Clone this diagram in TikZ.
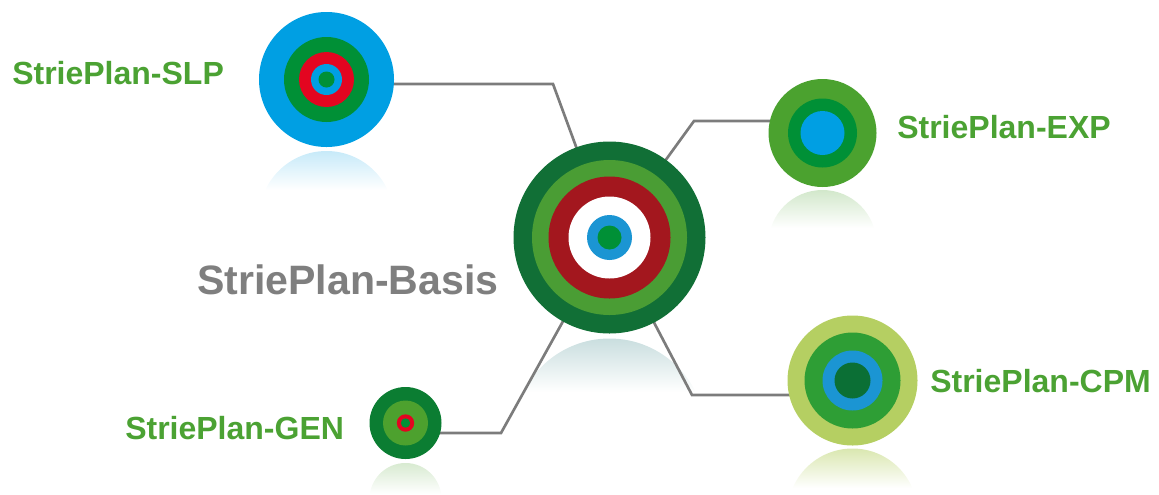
\documentclass[tikz,border=0pt]{standalone}
\usepackage{fontspec}
\setmainfont{Liberation Sans}
\usetikzlibrary{backgrounds}

\definecolor{planblue}{HTML}{009FE3}
\definecolor{plangreen}{HTML}{009036}
\definecolor{planred}{HTML}{E30520}
\definecolor{basisdark}{HTML}{116F36}
\definecolor{basislight}{HTML}{4A9D34}
\definecolor{basisred}{HTML}{A3171E}
\definecolor{basisblue}{HTML}{1B95D3}
\definecolor{basisglow}{HTML}{C9DEDF}
\definecolor{expgreen}{HTML}{4BA22F}
\definecolor{cpmolive}{HTML}{B5CF62}
\definecolor{cpmgreen}{HTML}{2E9E35}
\definecolor{cpmdark}{HTML}{0B6F35}
\definecolor{gendark}{HTML}{0B7D32}
\definecolor{genlight}{HTML}{4DA12E}
\definecolor{labgreen}{HTML}{4BA233}
\definecolor{basisgray}{HTML}{7F7F7F}
\definecolor{linkgray}{HTML}{7C7C7C}

\begin{document}
\begin{tikzpicture}[x=0.75pt, y=-0.75pt,
    disc/.style={circle, inner sep=0pt, outer sep=0pt},
    planname/.style={font=\bfseries\fontsize{24}{29}\selectfont, text=labgreen, inner sep=0pt, anchor=west},
    link/.style={draw=linkgray, line width=2pt}]
    \useasboundingbox (0,0) rectangle (1159,494);

    % Basis target in the middle
    \node[disc, fill=basisdark, minimum size=144pt] (basis) at (609.5,237.5) {};
    \fill[basislight] (basis) circle (77.5);
    \fill[basisred] (basis) circle (61);
    \fill[white] (basis) circle (41);
    \fill[basisblue] (basis) circle (22.5);
    \fill[plangreen] (basis) circle (12);

    % SLP target, top left
    \node[disc, fill=planblue, minimum size=101.25pt] (slp) at (326.5,79.5) {};
    \fill[plangreen] (slp) circle (42.5);
    \fill[planred] (slp) circle (27.5);
    \fill[planblue] (slp) circle (15.5);
    \fill[plangreen] (slp) circle (8);

    % EXP target, top right
    \node[disc, fill=expgreen, minimum size=81pt] (exp) at (822.5,133) {};
    \fill[plangreen] (exp) circle (34.5);
    \fill[planblue] (exp) circle (22);

    % CPM target, bottom right
    \node[disc, fill=cpmolive, minimum size=97.5pt] (cpm) at (852.5,380.5) {};
    \fill[cpmgreen] (cpm) circle (48);
    \fill[basisblue] (cpm) circle (30);
    \fill[cpmdark] (cpm) circle (18);

    % GEN target, bottom left
    \node[disc, fill=gendark, minimum size=54pt] (gen) at (405.5,423) {};
    \fill[genlight] (gen) circle (22.5);
    \fill[planred] (gen) circle (8.7);
    \fill[plangreen] (gen) circle (4.7);

    % names
    \node[planname] (slpname) at (12,73) {StriePlan-SLP};
    \node[planname] (expname) at (897,127.5) {StriePlan-EXP};
    \node[planname] (cpmname) at (930,381) {StriePlan-CPM};
    \node[planname] (genname) at (125,428) {StriePlan-GEN};
    \node[planname, text=basisgray, font=\bfseries\fontsize{30.8}{36}\selectfont] (basisname) at (197,280) {StriePlan-Basis};

    % bends of the connectors
    \coordinate (slpbend) at (553,84);
    \coordinate (expbend) at (694,121);
    \coordinate (cpmbend) at (692,395);
    \coordinate (genbend) at (501,433);

    \begin{scope}[on background layer]
        % reflections under the targets
        \begin{scope}
            \clip (326.5,218.5) circle (67.5);
            \shade[top color=planblue!22, bottom color=white] (255,151) rectangle (398,190);
        \end{scope}
        \begin{scope}
            \clip (822.5,244) circle (54);
            \shade[top color=expgreen!25, bottom color=white] (765,190) rectangle (880,228);
        \end{scope}
        \begin{scope}
            \clip (852.5,513.5) circle (65);
            \shade[top color=cpmolive!50, bottom color=white] (785,448.5) rectangle (920,488);
        \end{scope}
        \begin{scope}
            \clip (405.5,499) circle (36);
            \shade[top color=genlight!22, bottom color=white] (365,463) rectangle (445,494);
        \end{scope}
        \begin{scope}
            \clip (609.5,434.5) circle (96);
            \shade[top color=basisglow, bottom color=white] (510,338.5) rectangle (710,392);
        \end{scope}

        % connectors
        \draw[link] (basis.center) -- (slpbend) -- (slpbend -| slp.center);
        \draw[link] (basis.center) -- (expbend) -- (expbend -| exp.center);
        \draw[link] (basis.center) -- (cpmbend) -- (cpmbend -| cpm.center);
        \draw[link] (basis.center) -- (genbend) -- (genbend -| gen.center);
    \end{scope}
\end{tikzpicture}
\end{document}
